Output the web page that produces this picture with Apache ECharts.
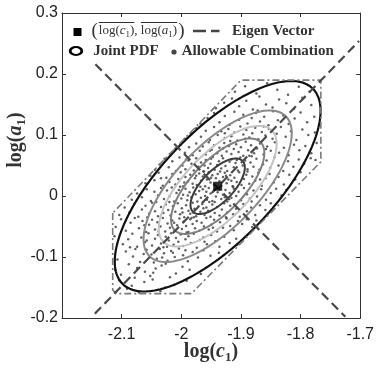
<!DOCTYPE html>
<html><head><meta charset="utf-8">
<script src="https://cdn.jsdelivr.net/npm/echarts@6/dist/echarts.min.js"></script>
<style>html,body{margin:0;padding:0;background:#fff}#c{width:377px;height:373px}</style>
</head><body><div id="c"></div>
<script>
// ---------------- data ----------------
const xTickValues = [-2.2, -2.1, -2.0, -1.9, -1.8, -1.7];
const yTickValues = [-0.2, -0.1, 0, 0.1, 0.2, 0.3];
const meanPoint = [-1.939, 0.016];
const eigenMajor = [[-2.145, -0.193], [-1.702, 0.254]];
const eigenMinor = [[-2.144, 0.216], [-1.725, -0.198]];
const allowableRegion = [[-2.115, -0.028], [-2.115, -0.154], [-2.109, -0.160], [-1.983, -0.160], [-1.766, 0.056], [-1.766, 0.190], [-1.900, 0.190], [-2.115, -0.028]];
const pdfSemiMajor = [0.226, 0.162, 0.129, 0.102, 0.059];
const pdfSemiMinor = [0.092, 0.068, 0.054, 0.043, 0.026];
const pdfAngleDeg = 45;
const allowablePoints = [
[-2.091,-0.152],[-2.062,-0.141],[-2.035,-0.156],[-2.104,-0.138],[-2.012,-0.146],[-2.071,-0.158],[-1.991,-0.139],[-2.048,-0.137],[-2.083,-0.147],[-2.027,-0.150],
[-2.101,-0.129],[-2.074,-0.118],[-2.052,-0.131],[-2.033,-0.114],[-2.009,-0.127],[-1.986,-0.121],[-2.088,-0.112],[-2.061,-0.124],[-2.043,-0.119],[-2.019,-0.133],[-1.967,-0.128],[-2.111,-0.121],[-2.026,-0.111],[-2.078,-0.134],[-1.998,-0.116],[-2.047,-0.126],
[-2.107,-0.104],[-2.093,-0.091],[-2.081,-0.099],[-2.069,-0.108],[-2.058,-0.088],[-2.050,-0.096],[-2.041,-0.103],[-2.036,-0.087],[-2.029,-0.094],[-2.023,-0.106],[-2.017,-0.090],[-2.011,-0.100],[-2.004,-0.086],[-1.997,-0.097],[-1.989,-0.107],[-1.981,-0.092],[-1.972,-0.101],[-1.963,-0.089],[-1.951,-0.098],[-1.937,-0.093],[-2.063,-0.095],[-2.046,-0.109],[-2.014,-0.093],[-1.993,-0.089],[-2.077,-0.087],[-2.032,-0.101],
[-2.112,-0.066],[-2.098,-0.079],[-2.089,-0.071],[-2.082,-0.062],[-2.074,-0.083],[-2.067,-0.068],[-2.061,-0.076],[-2.055,-0.061],[-2.049,-0.081],[-2.044,-0.070],[-2.039,-0.064],[-2.034,-0.078],[-2.030,-0.084],[-2.026,-0.067],[-2.021,-0.073],[-2.017,-0.061],[-2.013,-0.080],[-2.009,-0.069],[-2.005,-0.075],[-2.001,-0.063],[-1.997,-0.082],[-1.993,-0.071],[-1.988,-0.066],[-1.984,-0.077],[-1.979,-0.062],[-1.974,-0.085],[-1.969,-0.072],[-1.963,-0.068],[-1.957,-0.079],[-1.950,-0.064],[-1.943,-0.074],[-1.936,-0.083],[-1.928,-0.067],[-1.919,-0.077],[-1.908,-0.070],[-1.906,-0.080],[-2.058,-0.073],[-2.024,-0.083],[-1.991,-0.060],[-1.961,-0.075],[-2.086,-0.084],
[-2.110,-0.051],[-2.101,-0.038],[-2.093,-0.057],[-2.085,-0.044],[-2.078,-0.036],[-2.071,-0.053],[-2.065,-0.041],[-2.059,-0.059],[-2.054,-0.047],[-2.049,-0.039],[-2.044,-0.055],[-2.040,-0.043],[-2.035,-0.050],[-2.031,-0.036],[-2.027,-0.058],[-2.023,-0.045],[-2.019,-0.052],[-2.015,-0.040],[-2.011,-0.056],[-2.007,-0.048],[-2.003,-0.037],[-1.999,-0.054],[-1.996,-0.042],[-1.992,-0.049],[-1.988,-0.059],[-1.985,-0.038],[-1.981,-0.046],[-1.977,-0.053],[-1.974,-0.041],[-1.970,-0.057],[-1.966,-0.044],[-1.962,-0.050],[-1.958,-0.036],[-1.954,-0.055],[-1.950,-0.047],[-1.945,-0.039],[-1.940,-0.058],[-1.935,-0.043],[-1.930,-0.052],[-1.924,-0.037],[-1.918,-0.049],[-1.912,-0.056],[-1.905,-0.041],[-1.898,-0.046],[-1.890,-0.038],[-1.881,-0.051],[-1.874,-0.040],[-2.062,-0.048],[-2.012,-0.044],[-1.979,-0.035],[-1.947,-0.052],[-2.038,-0.058],
[-2.104,-0.031],[-2.095,-0.019],[-2.087,-0.027],[-2.079,-0.013],[-2.072,-0.034],[-2.066,-0.022],[-2.060,-0.016],[-2.054,-0.029],[-2.049,-0.011],[-2.044,-0.025],[-2.039,-0.033],[-2.034,-0.018],[-2.030,-0.028],[-2.026,-0.014],[-2.022,-0.023],[-2.018,-0.032],[-2.014,-0.017],[-2.010,-0.026],[-2.006,-0.012],[-2.002,-0.030],[-1.999,-0.020],[-1.995,-0.035],[-1.992,-0.015],[-1.988,-0.024],[-1.985,-0.029],[-1.981,-0.011],[-1.978,-0.021],[-1.975,-0.033],[-1.971,-0.017],[-1.968,-0.026],[-1.965,-0.013],[-1.961,-0.031],[-1.958,-0.019],[-1.955,-0.024],[-1.951,-0.034],[-1.948,-0.014],[-1.944,-0.028],[-1.940,-0.018],[-1.936,-0.032],[-1.932,-0.022],[-1.928,-0.012],[-1.923,-0.027],[-1.918,-0.016],[-1.913,-0.030],[-1.908,-0.021],[-1.902,-0.034],[-1.896,-0.013],[-1.890,-0.025],[-1.883,-0.019],[-1.876,-0.031],[-1.868,-0.015],[-1.859,-0.023],[-1.850,-0.012],[-2.057,-0.035],[-2.020,-0.010],[-1.983,-0.036],[-1.953,-0.010],[-1.925,-0.035],[-1.998,-0.027],[-1.963,-0.020],
[-2.083,-0.006],[-2.074,0.004],[-2.066,-0.002],[-2.058,0.011],[-2.051,-0.008],[-2.045,0.007],[-2.039,0.001],[-2.034,0.013],[-2.029,-0.005],[-2.024,0.009],[-2.020,-0.001],[-2.016,0.014],[-2.012,-0.009],[-2.008,0.005],[-2.004,0.010],[-2.000,-0.004],[-1.997,0.002],[-1.993,0.012],[-1.990,-0.007],[-1.986,0.006],[-1.983,-0.002],[-1.980,0.014],[-1.976,0.003],[-1.973,-0.009],[-1.970,0.008],[-1.967,-0.003],[-1.964,0.011],[-1.960,0.000],[-1.957,-0.006],[-1.954,0.013],[-1.951,0.004],[-1.948,-0.008],[-1.945,0.009],[-1.942,-0.001],[-1.939,0.006],[-1.936,0.014],[-1.933,-0.005],[-1.930,0.002],[-1.926,0.010],[-1.923,-0.009],[-1.919,0.005],[-1.916,-0.003],[-1.912,0.012],[-1.908,0.000],[-1.904,0.007],[-1.900,-0.007],[-1.895,0.013],[-1.890,0.003],[-1.885,-0.004],[-1.879,0.009],[-1.873,-0.001],[-1.866,0.011],[-1.858,-0.006],[-1.850,0.005],[-1.841,0.012],[-1.832,0.001],[-1.824,0.010],[-2.042,-0.010],[-2.002,0.015],[-1.968,0.015],[-1.944,-0.010],[-1.913,0.015],[-1.882,-0.009],[-1.989,0.001],[-1.958,0.007],[-1.927,-0.002],
[-2.060,0.021],[-2.052,0.033],[-2.045,0.026],[-2.038,0.038],[-2.031,0.017],[-2.025,0.030],[-2.020,0.023],[-2.015,0.036],[-2.010,0.019],[-2.005,0.028],[-2.001,0.039],[-1.997,0.016],[-1.993,0.031],[-1.989,0.024],[-1.985,0.035],[-1.981,0.020],[-1.977,0.029],[-1.974,0.018],[-1.970,0.037],[-1.967,0.025],[-1.964,0.032],[-1.960,0.016],[-1.957,0.027],[-1.954,0.039],[-1.951,0.022],[-1.948,0.034],[-1.945,0.019],[-1.942,0.029],[-1.939,0.036],[-1.936,0.024],[-1.933,0.017],[-1.930,0.031],[-1.927,0.038],[-1.924,0.021],[-1.921,0.027],[-1.918,0.034],[-1.914,0.016],[-1.911,0.030],[-1.907,0.023],[-1.903,0.039],[-1.899,0.018],[-1.895,0.028],[-1.891,0.035],[-1.886,0.020],[-1.881,0.032],[-1.876,0.025],[-1.871,0.038],[-1.865,0.017],[-1.859,0.029],[-1.852,0.036],[-1.845,0.022],[-1.837,0.031],[-1.828,0.019],[-1.819,0.035],[-1.809,0.027],[-1.800,0.039],[-2.034,0.029],[-1.995,0.022],[-1.962,0.040],[-1.940,0.015],[-1.916,0.025],[-1.889,0.040],[-1.868,0.027],[-1.975,0.033],[-1.950,0.030],[-1.925,0.033],
[-2.044,0.043],[-2.036,0.052],[-2.028,0.061],[-2.021,0.047],[-2.015,0.057],[-2.009,0.041],[-2.003,0.063],[-1.998,0.050],[-1.993,0.044],[-1.988,0.058],[-1.983,0.053],[-1.979,0.042],[-1.975,0.062],[-1.971,0.048],[-1.967,0.055],[-1.963,0.040],[-1.959,0.059],[-1.955,0.046],[-1.951,0.053],[-1.947,0.064],[-1.944,0.043],[-1.940,0.051],[-1.937,0.057],[-1.933,0.045],[-1.930,0.062],[-1.926,0.049],[-1.923,0.041],[-1.919,0.056],[-1.916,0.060],[-1.912,0.047],[-1.909,0.054],[-1.905,0.042],[-1.901,0.063],[-1.897,0.050],[-1.893,0.058],[-1.889,0.044],[-1.884,0.055],[-1.879,0.048],[-1.874,0.061],[-1.869,0.043],[-1.863,0.052],[-1.857,0.058],[-1.851,0.046],[-1.844,0.063],[-1.837,0.050],[-1.829,0.041],[-1.821,0.057],[-1.812,0.048],[-1.803,0.060],[-1.794,0.053],[-1.783,0.062],[-1.775,0.059],[-1.992,0.060],[-1.961,0.050],[-1.935,0.040],[-1.907,0.059],[-1.882,0.065],[-1.950,0.061],
[-2.019,0.069],[-2.010,0.078],[-2.001,0.084],[-1.994,0.071],[-1.987,0.080],[-1.981,0.067],[-1.975,0.086],[-1.969,0.074],[-1.964,0.081],[-1.959,0.068],[-1.954,0.088],[-1.949,0.076],[-1.945,0.083],[-1.940,0.070],[-1.936,0.079],[-1.932,0.066],[-1.928,0.087],[-1.924,0.073],[-1.920,0.082],[-1.916,0.069],[-1.912,0.077],[-1.908,0.085],[-1.904,0.072],[-1.900,0.080],[-1.896,0.066],[-1.892,0.089],[-1.888,0.075],[-1.883,0.083],[-1.878,0.070],[-1.873,0.078],[-1.868,0.086],[-1.862,0.068],[-1.856,0.081],[-1.850,0.074],[-1.843,0.088],[-1.836,0.071],[-1.828,0.079],[-1.820,0.067],[-1.811,0.084],[-1.802,0.075],[-1.792,0.082],[-1.782,0.070],[-1.773,0.087],[-1.952,0.074],[-1.918,0.090],[-1.886,0.066],[-1.858,0.077],[-1.930,0.078],
[-1.994,0.094],[-1.984,0.103],[-1.975,0.111],[-1.967,0.097],[-1.959,0.107],[-1.952,0.092],[-1.945,0.113],[-1.939,0.100],[-1.933,0.106],[-1.927,0.095],[-1.921,0.110],[-1.916,0.098],[-1.911,0.104],[-1.906,0.091],[-1.901,0.114],[-1.896,0.101],[-1.891,0.108],[-1.886,0.096],[-1.881,0.103],[-1.876,0.112],[-1.871,0.093],[-1.865,0.105],[-1.859,0.099],[-1.853,0.110],[-1.847,0.094],[-1.840,0.102],[-1.833,0.113],[-1.825,0.097],[-1.816,0.106],[-1.807,0.092],[-1.797,0.109],[-1.787,0.100],[-1.776,0.104],[-1.927,0.103],[-1.893,0.094],[-1.862,0.114],
[-1.968,0.119],[-1.956,0.128],[-1.945,0.136],[-1.936,0.121],[-1.927,0.131],[-1.919,0.117],[-1.911,0.138],[-1.903,0.125],[-1.896,0.133],[-1.889,0.119],[-1.882,0.128],[-1.875,0.136],[-1.868,0.122],[-1.861,0.130],[-1.854,0.116],[-1.846,0.139],[-1.838,0.124],[-1.829,0.132],[-1.820,0.118],[-1.810,0.127],[-1.800,0.137],[-1.789,0.121],[-1.777,0.130],[-1.872,0.140],
[-1.942,0.144],[-1.928,0.153],[-1.915,0.160],[-1.903,0.147],[-1.891,0.156],[-1.880,0.142],[-1.869,0.163],[-1.858,0.150],[-1.847,0.145],[-1.836,0.158],[-1.824,0.152],[-1.811,0.143],[-1.797,0.161],[-1.782,0.149],
[-1.910,0.171],[-1.893,0.180],[-1.874,0.168],[-1.856,0.185],[-1.839,0.174],[-1.821,0.166],[-1.803,0.179],[-1.785,0.171]
];

// ---------------- styles ----------------
const contourColors = ['#111111', '#8a8a8a', '#c4c4c4', '#808080', '#3a3a3a'];
const contourWidths = [2.2, 2, 2, 2, 2];

function ellipsePath(c, a, b, deg) {
  const phi = deg * Math.PI / 180, pts = [];
  for (let i = 0; i <= 180; i++) {
    const t = i / 180 * 2 * Math.PI;
    const u = a * Math.cos(t), v = b * Math.sin(t);
    pts.push([c[0] + u * Math.cos(phi) - v * Math.sin(phi), c[1] + u * Math.sin(phi) + v * Math.cos(phi)]);
  }
  return pts;
}

const chart = echarts.init(document.getElementById('c'), null, {renderer: 'canvas'});
const ctx = document.createElement('canvas').getContext('2d');
function seq(pieces, x0, y0) {
  let cur = x0; const els = [], spans = [];
  pieces.forEach(p => {
    ctx.font = p.font;
    const w = ctx.measureText(p.t).width;
    els.push({type: 'text', x: cur, y: y0 + (p.dy || 0), silent: true, z: 100,
      style: {text: p.t, font: p.font, fill: p.fill || '#333', align: 'left', verticalAlign: 'middle', textAlign: 'left', textVerticalAlign: 'middle'}});
    spans.push([cur, cur + w]);
    cur += w + (p.gap || 0);
  });
  return {els, spans, width: cur - x0};
}
const SER = '"Liberation Serif", "Times New Roman", serif';
const M = '13px ' + SER, MI = 'italic 13px ' + SER, MS = '9px ' + SER;
const BIG = '19px ' + SER;
const B15 = 'bold 15px ' + SER;
const AX = 'bold 20px ' + SER, AXI = 'italic bold 20px ' + SER, AXS = 'bold 13px ' + SER;

const graphics = [];
// legend row 1
graphics.push({type: 'rect', shape: {x: 73.5, y: 28, width: 8, height: 8}, style: {fill: '#000'}, z: 100, silent: true});
const r1 = seq([
  {t: '(', font: BIG, dy: 0, gap: 1},
  {t: 'log(', font: M}, {t: 'c', font: MI}, {t: '1', font: MS, dy: 3.5}, {t: ')', font: M}, {t: ', ', font: M},
  {t: 'log(', font: M}, {t: 'a', font: MI}, {t: '1', font: MS, dy: 3.5}, {t: ')', font: M, gap: 1},
  {t: ')', font: BIG}
], 91.5, 31);
graphics.push(...r1.els);
graphics.push({type: 'line', shape: {x1: r1.spans[1][0], y1: 22.5, x2: r1.spans[4][1], y2: 22.5}, style: {stroke: '#333', lineWidth: 1}, z: 100, silent: true});
graphics.push({type: 'line', shape: {x1: r1.spans[6][0], y1: 22.5, x2: r1.spans[9][1], y2: 22.5}, style: {stroke: '#333', lineWidth: 1}, z: 100, silent: true});
graphics.push({type: 'line', shape: {x1: 193, y1: 31, x2: 219.5, y2: 31}, style: {stroke: '#444', lineWidth: 2.5, lineDash: [13, 5]}, z: 100, silent: true});
graphics.push(...seq([{t: 'Eigen Vector', font: B15}], 232, 31).els);
// legend row 2
graphics.push({type: 'circle', shape: {cx: 0, cy: 0, r: 4}, x: 76, y: 51, scaleX: 1.45, scaleY: 1, style: {fill: 'none', stroke: '#000', lineWidth: 2, strokeNoScale: true}, z: 100, silent: true});
graphics.push(...seq([{t: 'Joint PDF', font: B15}], 93.3, 51.5).els);
graphics.push({type: 'circle', shape: {cx: 174, cy: 52, r: 2.6}, style: {fill: '#444'}, z: 100, silent: true});
graphics.push(...seq([{t: 'Allowable Combination', font: B15}], 181.7, 51.5).els);
// x axis title
const xl = seq([{t: 'log(', font: AX}, {t: 'c', font: AXI}, {t: '1', font: AXS, dy: 5.5}, {t: ')', font: AX}], 0, 0);
graphics.push({type: 'group', x: 211 - xl.width / 2, y: 352, children: xl.els});
// y axis title
const yl = seq([{t: 'log(', font: AX}, {t: 'a', font: AXI}, {t: '1', font: AXS, dy: 5.5}, {t: ')', font: AX}], 0, 0);
yl.els.forEach(e => e.x -= yl.width / 2);
graphics.push({type: 'group', x: 16, y: 140, rotation: Math.PI / 2, children: yl.els});

const fmt = v => String(+(+v).toFixed(1));
const axisCommon = {
  type: 'value', splitLine: {show: false},
  axisLine: {show: true, onZero: false, lineStyle: {color: '#333', width: 1}},
  axisTick: {show: true, inside: true, length: 4, lineStyle: {color: '#333'}}
};
const series = [];
series.push({type: 'scatter', data: allowablePoints, symbol: 'circle', symbolSize: 2.5, itemStyle: {color: '#3a3a3a'}, silent: true, z: 1});
pdfSemiMajor.forEach((a, i) => {
  series.push({type: 'line', data: ellipsePath(meanPoint, a, pdfSemiMinor[i], pdfAngleDeg), showSymbol: false, symbol: 'none', smooth: false,
    lineStyle: {color: contourColors[i], width: contourWidths[i]}, silent: true, z: 3});
});
series.push({type: 'line', data: allowableRegion, symbol: 'none', lineStyle: {color: '#7a7a7a', width: 1.6, type: [7, 3, 2, 3]}, silent: true, z: 4});
series.push({type: 'line', data: eigenMajor, symbol: 'none', lineStyle: {color: '#4a4a4a', width: 2.2, type: [9, 5]}, silent: true, z: 5});
series.push({type: 'line', data: eigenMinor, symbol: 'none', lineStyle: {color: '#4a4a4a', width: 2.2, type: [9, 5]}, silent: true, z: 5});
series.push({type: 'scatter', data: [meanPoint], symbol: 'rect', symbolSize: 9, itemStyle: {color: '#000'}, silent: true, z: 6});

chart.setOption({
  animation: false,
  backgroundColor: '#fff',
  grid: {left: 62, right: 14, top: 13, bottom: 55},
  xAxis: [
    Object.assign({}, axisCommon, {position: 'bottom', min: xTickValues[0], max: xTickValues[xTickValues.length - 1], interval: 0.1,
      axisLabel: {show: true, showMinLabel: false, margin: 9, color: '#222', fontSize: 16, fontFamily: '"Liberation Sans", Arial, sans-serif', formatter: fmt}}),
    Object.assign({}, axisCommon, {position: 'top', min: xTickValues[0], max: xTickValues[xTickValues.length - 1], interval: 0.1, axisLabel: {show: false}})
  ],
  yAxis: [
    Object.assign({}, axisCommon, {position: 'left', min: yTickValues[0], max: yTickValues[yTickValues.length - 1], interval: 0.1,
      axisLabel: {show: true, margin: 4, color: '#222', fontSize: 16, fontFamily: '"Liberation Sans", Arial, sans-serif', formatter: fmt}}),
    Object.assign({}, axisCommon, {position: 'right', min: yTickValues[0], max: yTickValues[yTickValues.length - 1], interval: 0.1, axisLabel: {show: false}})
  ],
  graphic: graphics,
  series: series
});
</script></body></html>
